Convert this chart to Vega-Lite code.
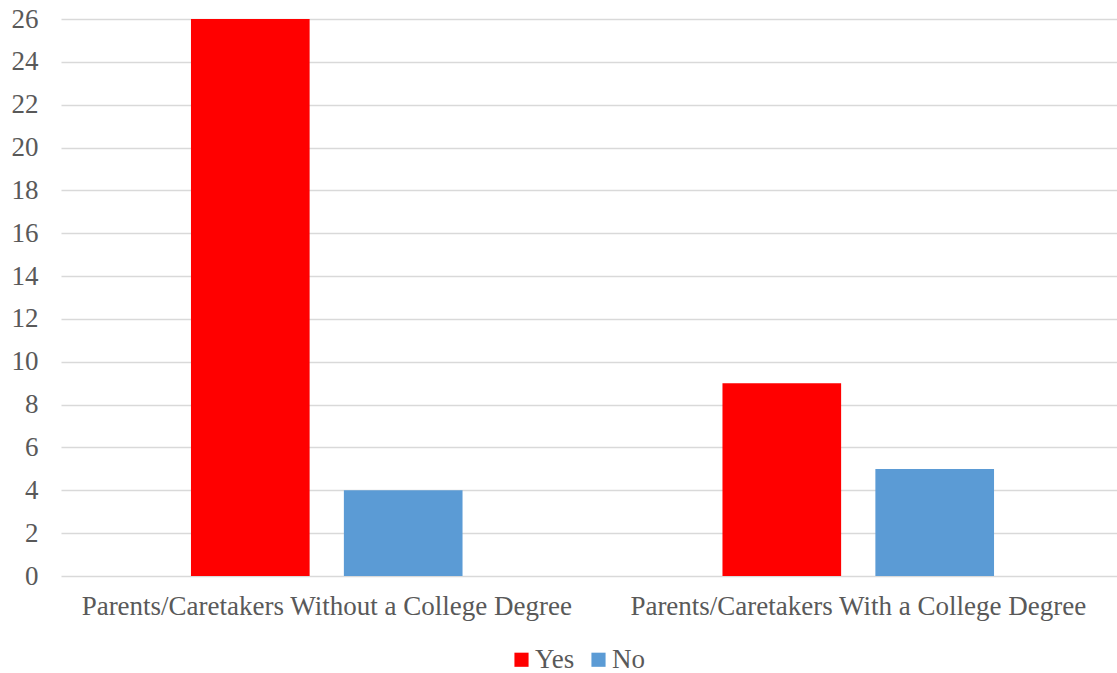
{
  "$schema": "https://vega.github.io/schema/vega-lite/v6.json",
  "autosize": {"type": "none"},
  "padding": {"left": 61, "top": 19, "right": 0, "bottom": 97},
  "width": 1056,
  "height": 557,
  "background": "white",
  "data": {
    "values": [
      {"group": "Parents/Caretakers Without a College Degree", "answer": "Yes", "count": 26},
      {"group": "Parents/Caretakers Without a College Degree", "answer": "No", "count": 4},
      {"group": "Parents/Caretakers With a College Degree", "answer": "Yes", "count": 9},
      {"group": "Parents/Caretakers With a College Degree", "answer": "No", "count": 5}
    ]
  },
  "config": {
    "font": "'Liberation Serif', 'Times New Roman', serif",
    "view": {"stroke": null}
  },
  "mark": {"type": "bar"},
  "encoding": {
    "x": {
      "field": "group",
      "type": "nominal",
      "sort": null,
      "scale": {"paddingInner": 0, "paddingOuter": 0, "range": [0, 1063]},
      "axis": {
        "title": null,
        "labelAngle": 0,
        "labelFont": "'Liberation Serif', 'Times New Roman', serif",
        "labelFontSize": 27,
        "labelColor": "#595959",
        "labelPadding": 17,
        "ticks": false,
        "domain": false,
        "labelLimit": 0
      }
    },
    "xOffset": {
      "field": "answer",
      "sort": ["Yes", "No"],
      "scale": {"paddingInner": 0.224, "paddingOuter": 0.85}
    },
    "y": {
      "field": "count",
      "type": "quantitative",
      "scale": {"domain": [0, 26], "nice": false},
      "axis": {
        "title": null,
        "values": [0, 2, 4, 6, 8, 10, 12, 14, 16, 18, 20, 22, 24, 26],
        "labelFont": "'Liberation Serif', 'Times New Roman', serif",
        "labelFontSize": 27,
        "labelColor": "#595959",
        "labelPadding": 23,
        "ticks": false,
        "domain": false,
        "grid": true,
        "gridColor": "#d9d9d9",
        "gridWidth": 1.5
      }
    },
    "color": {
      "field": "answer",
      "type": "nominal",
      "sort": ["Yes", "No"],
      "scale": {"domain": ["Yes", "No"], "range": ["#ff0000", "#5b9bd5"]},
      "legend": {
        "title": null,
        "orient": "none",
        "direction": "horizontal",
        "legendX": 447,
        "legendY": 627,
        "symbolType": "square",
        "symbolSize": 200,
        "symbolStrokeWidth": 0,
        "labelFont": "'Liberation Serif', 'Times New Roman', serif",
        "labelFontSize": 27,
        "labelColor": "#595959",
        "labelOffset": 0,
        "columnPadding": 10
      }
    }
  }
}
